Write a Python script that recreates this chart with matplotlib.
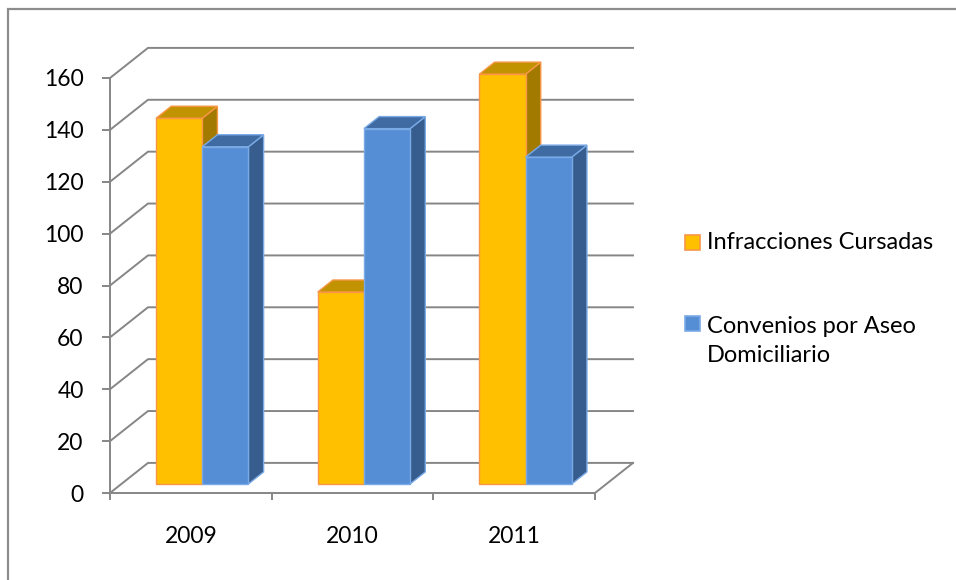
import matplotlib.pyplot as plt
from matplotlib.patches import Polygon, Rectangle
from matplotlib.lines import Line2D

# datos
years = ["2009", "2010", "2011"]
infracciones = [141, 74, 158]
convenios = [130, 137, 126]
series_names = ["Infracciones Cursadas", "Convenios por Aseo\nDomiciliario"]
yticks = list(range(0, 161, 20))

plt.rcParams['font.family'] = ['Lato', 'DejaVu Sans']

# colores (frente, arriba, lado, borde)
colores = [
    ("#FFC000", "#C29300", "#A27A00", "#F79646"),
    ("#558ED5", "#3F6AA2", "#365D8E", "#7AAAE6"),
]
grid_col = "#868686"

fig = plt.figure(figsize=(9.56, 5.8), dpi=100)
ax = fig.add_axes([110 / 956, 87 / 580, 485 / 956, 415 / 580])
ax.set_xlim(0, 3)
ax.set_ylim(0, 160)

# desplazamiento de profundidad (efecto 3D)
DX = 0.235
DY = 11.6


def P(x, v, d):
    return (x + d * DX, v + d * DY)


# lineas de division: pared lateral + pared de fondo
for v in yticks:
    pts = [P(0, v, 0), P(0, v, 1), P(3, v, 1)]
    ax.add_line(Line2D([p[0] for p in pts], [p[1] for p in pts], color=grid_col,
                       lw=1.4, clip_on=False, zorder=1))
# borde derecho del piso
pts = [P(3, 0, 0), P(3, 0, 1)]
ax.add_line(Line2D([p[0] for p in pts], [p[1] for p in pts], color=grid_col,
                   lw=1.4, clip_on=False, zorder=1))

# barras
n = 2
w = 1 / 3.5
gap = (1 - n * w) / 2
d0, d1 = 0.3, 0.7
for i in range(len(years)):
    for j, vals in enumerate([infracciones, convenios]):
        v = vals[i]
        fc, tc, sc, ec = colores[j]
        x0 = i + gap + j * w
        x1 = x0 + w
        front = [P(x0, 0, d0), P(x1, 0, d0), P(x1, v, d0), P(x0, v, d0)]
        top = [P(x0, v, d0), P(x1, v, d0), P(x1, v, d1), P(x0, v, d1)]
        side = [P(x1, 0, d0), P(x1, v, d0), P(x1, v, d1), P(x1, 0, d1)]
        z = 3 + i * 2 + j
        ax.add_patch(Polygon(side, closed=True, fc=sc, ec=ec, lw=1.0, clip_on=False, zorder=z))
        ax.add_patch(Polygon(top, closed=True, fc=tc, ec=ec, lw=1.0, clip_on=False, zorder=z))
        ax.add_patch(Polygon(front, closed=True, fc=fc, ec=ec, lw=1.0, clip_on=False, zorder=z))

# ejes
for s in ["top", "right"]:
    ax.spines[s].set_visible(False)
for s in ["left", "bottom"]:
    ax.spines[s].set_color(grid_col)
    ax.spines[s].set_linewidth(1.4)
ax.set_facecolor("none")
ax.set_yticks(yticks)
ax.tick_params(axis="y", direction="out", length=6, width=1.4, color=grid_col,
               pad=13, labelsize=16.5)
ax.set_xticks([0, 1, 2, 3])
ax.set_xticklabels([])
ax.set_xticks([0.5, 1.5, 2.5], minor=True)
ax.set_xticklabels(years, minor=True)
ax.tick_params(axis="x", which="major", direction="out", length=5, width=1.4, color=grid_col)
ax.tick_params(axis="x", which="minor", length=0, pad=24, labelsize=16.5)

# leyenda (y del cuadro, linea base de la ultima linea de texto)
leg_x = 685 / 956
leg_items = [(242, 249, series_names[0]), (323, 362, series_names[1])]
for j, (ypix, base, name) in enumerate(leg_items):
    fc, tc, sc, ec = colores[j]
    sz = 15
    fig.patches.append(Rectangle((leg_x, 1 - (ypix + sz / 2) / 580), sz / 956, sz / 580,
                                 transform=fig.transFigure, fc=fc, ec=ec, lw=1.2))
    fig.text(707 / 956, 1 - base / 580, name, fontsize=17, va="baseline", ha="left",
             linespacing=1.48)

# borde del grafico
fig.patches.append(Rectangle((8 / 956, -0.1), 1.2, 1 - 9 / 580 + 0.1,
                             transform=fig.transFigure, fill=False, ec="#8C8C8C", lw=1.6))

fig.savefig("out.png", dpi=100)
